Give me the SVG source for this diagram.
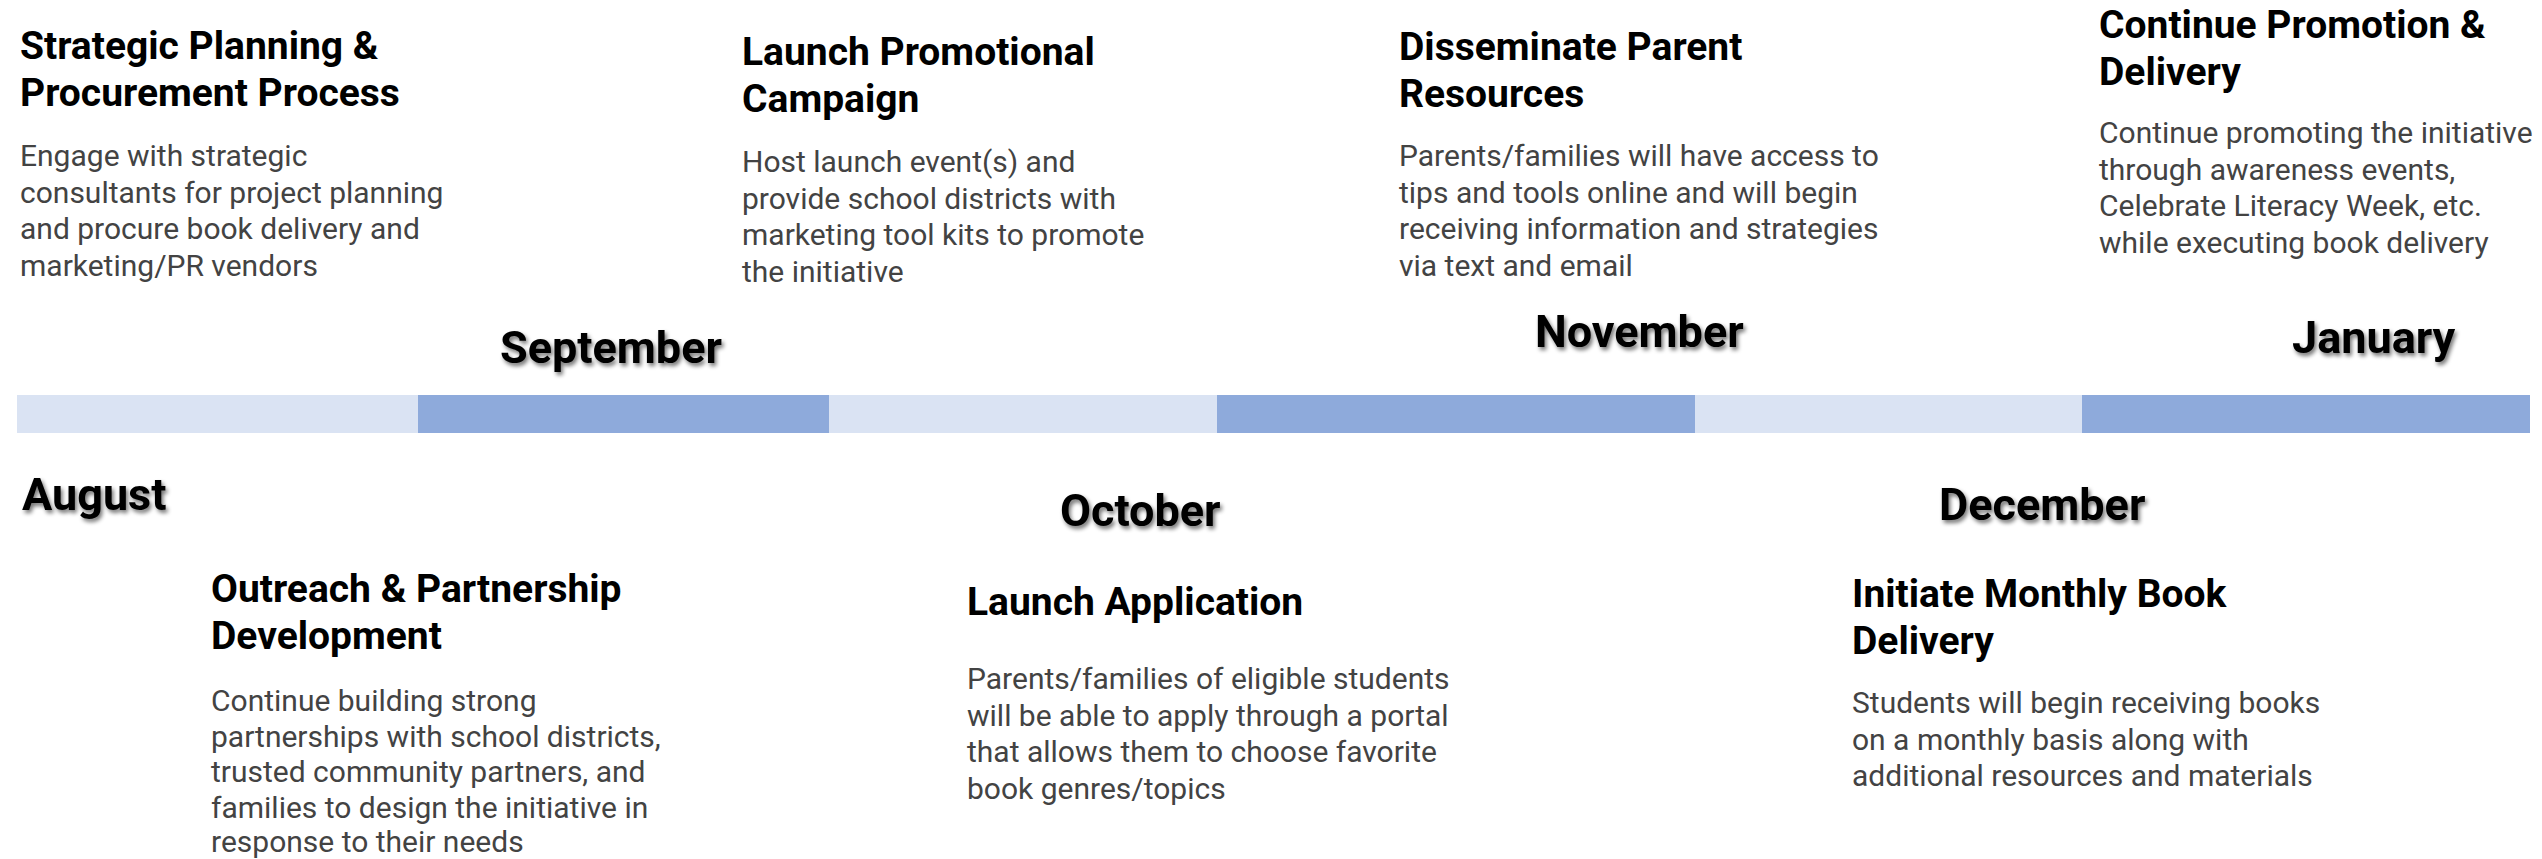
<svg xmlns="http://www.w3.org/2000/svg" width="2542" height="859" viewBox="0 0 2542 859">
  <style>
    .title { font-family: Roboto, "Liberation Sans", sans-serif; font-weight: 700; font-size: 39px; fill: #000000; }
    .body { font-family: Roboto, "Liberation Sans", sans-serif; font-weight: 400; font-size: 30px; fill: #434343; }
    .month { font-family: Roboto, "Liberation Sans", sans-serif; font-weight: 700; font-size: 45px; fill: #000000; filter: url(#soft-shadow); }
    .seg-light { fill: #dae3f3; }
    .seg-dark { fill: #8eaadb; }
  </style>
  <defs>
    <filter id="soft-shadow" x="-10%" y="-30%" width="130%" height="180%">
      <feGaussianBlur in="SourceAlpha" stdDeviation="2.2"/>
      <feOffset dx="2" dy="3" result="blur"/>
      <feComponentTransfer><feFuncA type="linear" slope="0.55"/></feComponentTransfer>
      <feMerge><feMergeNode/><feMergeNode in="SourceGraphic"/></feMerge>
    </filter>
  </defs>
  <rect width="2542" height="859" fill="#ffffff"/>

  <!-- timeline bar -->
  <g id="timeline">
    <rect class="seg-light" x="17" y="395" width="401" height="38"/>
    <rect class="seg-dark" x="418" y="395" width="411" height="38"/>
    <rect class="seg-light" x="829" y="395" width="388" height="38"/>
    <rect class="seg-dark" x="1217" y="395" width="478" height="38"/>
    <rect class="seg-light" x="1695" y="395" width="387" height="38"/>
    <rect class="seg-dark" x="2082" y="395" width="448" height="38"/>
  </g>

  <!-- month labels -->
  <g id="months">
    <text id="m-aug" class="month" x="22" y="510">August</text>
    <text id="m-sep" class="month" x="500" y="363">September</text>
    <text id="m-oct" class="month" x="1060" y="526">October</text>
    <text id="m-nov" class="month" x="1535" y="347">November</text>
    <text id="m-dec" class="month" x="1939" y="520">December</text>
    <text id="m-jan" class="month" x="2292" y="353">January</text>
  </g>

  <!-- milestones above the bar -->
  <g id="strategic-planning">
    <text class="title" x="20" y="59">Strategic Planning &amp;</text>
    <text class="title" x="20" y="106">Procurement Process</text>
    <text class="body" x="20" y="166">Engage with strategic</text>
    <text class="body" x="20" y="202.5">consultants for project planning</text>
    <text class="body" x="20" y="239">and procure book delivery and</text>
    <text class="body" x="20" y="275.5">marketing/PR vendors</text>
  </g>

  <g id="launch-promotional">
    <text class="title" x="742" y="65">Launch Promotional</text>
    <text class="title" x="742" y="112">Campaign</text>
    <text class="body" x="742" y="172">Host launch event(s) and</text>
    <text class="body" x="742" y="208.5">provide school districts with</text>
    <text class="body" x="742" y="245">marketing tool kits to promote</text>
    <text class="body" x="742" y="281.5">the initiative</text>
  </g>

  <g id="disseminate-resources">
    <text class="title" x="1399" y="60">Disseminate Parent</text>
    <text class="title" x="1399" y="107">Resources</text>
    <text class="body" x="1399" y="166">Parents/families will have access to</text>
    <text class="body" x="1399" y="202.5">tips and tools online and will begin</text>
    <text class="body" x="1399" y="239">receiving information and strategies</text>
    <text class="body" x="1399" y="275.5">via text and email</text>
  </g>

  <g id="continue-promotion">
    <text class="title" x="2099" y="38">Continue Promotion &amp;</text>
    <text class="title" x="2099" y="85">Delivery</text>
    <text class="body" x="2099" y="143">Continue promoting the initiative</text>
    <text class="body" x="2099" y="179.5">through awareness events,</text>
    <text class="body" x="2099" y="216">Celebrate Literacy Week, etc.</text>
    <text class="body" x="2099" y="252.5">while executing book delivery</text>
  </g>

  <!-- milestones below the bar -->
  <g id="outreach-partnership">
    <text class="title" x="211" y="602">Outreach &amp; Partnership</text>
    <text class="title" x="211" y="649">Development</text>
    <text class="body" x="211" y="711">Continue building strong</text>
    <text class="body" x="211" y="746.5">partnerships with school districts,</text>
    <text class="body" x="211" y="782">trusted community partners, and</text>
    <text class="body" x="211" y="817.5">families to design the initiative in</text>
    <text class="body" x="211" y="852">response to their needs</text>
  </g>

  <g id="launch-application">
    <text class="title" x="967" y="615">Launch Application</text>
    <text class="body" x="967" y="689">Parents/families of eligible students</text>
    <text class="body" x="967" y="725.5">will be able to apply through a portal</text>
    <text class="body" x="967" y="762">that allows them to choose favorite</text>
    <text class="body" x="967" y="798.5">book genres/topics</text>
  </g>

  <g id="monthly-delivery">
    <text class="title" x="1852" y="607">Initiate Monthly Book</text>
    <text class="title" x="1852" y="654">Delivery</text>
    <text class="body" x="1852" y="713">Students will begin receiving books</text>
    <text class="body" x="1852" y="749.5">on a monthly basis along with</text>
    <text class="body" x="1852" y="786">additional resources and materials</text>
  </g>
</svg>
